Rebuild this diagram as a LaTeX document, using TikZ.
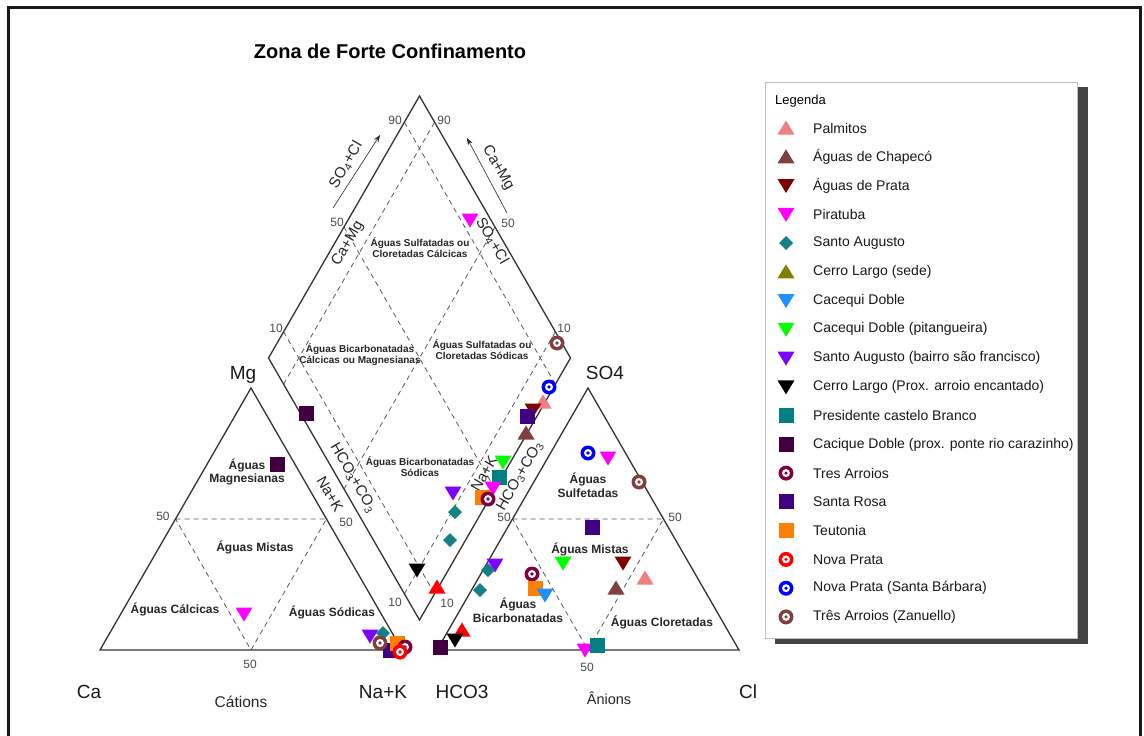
\documentclass[tikz,border=0pt]{standalone}
\usepackage{fontspec}
\setmainfont{Liberation Sans}
\usetikzlibrary{calc,arrows.meta}
\definecolor{cPalm}{RGB}{240,128,128}
\definecolor{cChap}{RGB}{128,64,64}
\definecolor{cPrata}{RGB}{128,0,0}
\definecolor{cPira}{RGB}{255,0,255}
\definecolor{cSAug}{RGB}{20,130,130}
\definecolor{cCerro}{RGB}{128,128,0}
\definecolor{cCaceq}{RGB}{30,144,255}
\definecolor{cPitang}{RGB}{0,255,0}
\definecolor{cBairro}{RGB}{128,0,255}
\definecolor{cPres}{RGB}{0,128,128}
\definecolor{cCaciq}{RGB}{64,0,64}
\definecolor{cTres}{RGB}{128,0,64}
\definecolor{cRosa}{RGB}{64,0,128}
\definecolor{cTeut}{RGB}{255,128,0}
\definecolor{cNova}{RGB}{255,0,0}
\definecolor{cNovaSB}{RGB}{0,0,255}
\definecolor{cZan}{RGB}{128,64,64}
\definecolor{shadowgray}{RGB}{68,68,68}
\tikzset{
  edge/.style={draw=black!80, line width=1.3pt},
  grid/.style={draw=black!65, line width=0.8pt, dash pattern=on 5pt off 4pt},
  reg/.style={font=\bfseries\fontsize{10}{11}\selectfont, text=black!85, align=center, inner sep=0pt},
  regb/.style={font=\bfseries\fontsize{12}{13.5}\selectfont, text=black!85, align=center, inner sep=0pt},
  num/.style={font=\fontsize{12}{13}\selectfont, text=black!70, inner sep=0pt},
  axl/.style={font=\fontsize{15}{16}\selectfont, text=black!85, inner sep=0pt},
  corner/.style={font=\fontsize{19}{21}\selectfont, text=black!90, inner sep=0pt},
  legtxt/.style={font=\fontsize{14}{16}\selectfont, text=black!90, anchor=west, inner sep=0pt},
  axarrow/.style={draw=black!85, line width=0.6pt, -{Stealth[length=7pt,width=5pt]}},
  pics/tup/.style={code={\fill[#1] (-8.5,6.5) -- (8.5,6.5) -- (0,-7.5) -- cycle;}},
  pics/tdn/.style={code={\fill[#1] (-8.5,-6.5) -- (8.5,-6.5) -- (0,7.5) -- cycle;}},
  pics/sq/.style={code={\fill[#1] (-7.5,-7.5) rectangle (7.5,7.5);}},
  pics/dia/.style={code={\fill[#1] (-7,0) -- (0,-7) -- (7,0) -- (0,7) -- cycle;}},
  pics/bull/.style={code={\fill[#1] (0,0) circle (7.5pt); \fill[white] (0,0) circle (4pt); \fill[#1] (0,0) circle (1.8pt);}},
}
\begin{document}
\begin{tikzpicture}[x=1pt,y=-1pt]
\useasboundingbox (0,0) rectangle (1144,736);
\fill[white] (0,0) rectangle (1144,736);
% frame
\draw[black!90, line width=3pt] (8.5,736) -- (8.5,7.5) -- (1140.5,7.5) -- (1140.5,736);

% title
\node[font=\bfseries\fontsize{20}{22}\selectfont, inner sep=0pt] (title) at (390,51) {Zona de Forte Confinamento};

% key points
\coordinate (Ca) at (100,650);
\coordinate (NaK) at (402,650);
\coordinate (Mg) at (251,388);
\coordinate (HC) at (437,650);
\coordinate (Cl) at (739,650);
\coordinate (SO) at (588,388);
\coordinate (Bt) at (419.5,620);
\coordinate (Lf) at (268.5,358);
\coordinate (Rt) at (570.5,358);
\coordinate (Tp) at (419.5,96);

% dashed grid
\draw[grid] ($(Ca)!0.5!(Mg)$) -- ($(Mg)!0.5!(NaK)$) -- ($(Ca)!0.5!(NaK)$) -- cycle;
\draw[grid] ($(HC)!0.5!(SO)$) -- ($(SO)!0.5!(Cl)$) -- ($(HC)!0.5!(Cl)$) -- cycle;
\foreach \t in {0.1,0.5,0.9}{
  \draw[grid] ($(Lf)!\t!(Tp)$) -- ($(Bt)!\t!(Rt)$);
  \draw[grid] ($(Lf)!\t!(Bt)$) -- ($(Tp)!\t!(Rt)$);
}

% solid outlines
\draw[edge] (Ca) -- (Mg) -- (NaK) -- cycle;
\draw[edge] (HC) -- (SO) -- (Cl) -- cycle;
\draw[edge] (Bt) -- (Lf) -- (Tp) -- (Rt) -- cycle;

% numbers
\node[num] (n90a) at (395,120) {90};
\node[num] (n90b) at (444,120) {90};
\node[num] (n50a) at (337,222) {50};
\node[num] (n50b) at (508,223) {50};
\node[num] (n10a) at (276,328) {10};
\node[num] (n10b) at (564,328) {10};
\node[num] (n10c) at (395,602) {10};
\node[num] (n10d) at (447,603) {10};
\node[num] (n50c) at (163,516) {50};
\node[num] (n50d) at (346,522) {50};
\node[num] (n50e) at (250,664) {50};
\node[num] (n50f) at (504,517) {50};
\node[num] (n50g) at (675,517) {50};
\node[num] (n50h) at (587,667) {50};

% axis labels of diamond
\coordinate (a1s) at (333,208); \coordinate (a1e) at (380,135);
\coordinate (a2s) at (507,213); \coordinate (a2e) at (467,138);
\draw[axarrow] (a1s) -- (a1e);
\draw[axarrow] (a2s) -- (a2e);
\node[axl, rotate=60] (lso1) at (346,165) {SO\textsubscript{4}+Cl};
\node[axl, rotate=-60] (lcm1) at (498,168) {Ca+Mg};
\node[axl, rotate=60] (lcm2) at (348,244) {Ca+Mg};
\node[axl, rotate=-60] (lso2) at (492,241) {SO\textsubscript{4}+Cl};
\node[axl, rotate=-60] (lhc1) at (353,478) {HCO\textsubscript{3}+CO\textsubscript{3}};
\node[axl, rotate=-60] (lnk1) at (330,494) {Na+K};
\node[axl, rotate=60] (lnk2) at (484,474) {Na+K};
\node[axl, rotate=60] (lhc2) at (520,476) {HCO\textsubscript{3}+CO\textsubscript{3}};

% region labels
\node[reg] (r1) at (420,248) {Águas Sulfatadas ou\\Cloretadas Cálcicas};
\node[reg] (r2) at (360,355) {Águas Bicarbonatadas\\Cálcicas ou Magnesianas};
\node[reg] (r3) at (482,350) {Águas Sulfatadas ou\\Cloretadas Sódicas};
\node[reg] (r4) at (420,467) {Águas Bicarbonatadas\\Sódicas};
\node[regb] (r5) at (247,472) {Águas\\Magnesianas};
\node[regb] (r6) at (255,547) {Águas Mistas};
\node[regb] (r7) at (175,609) {Águas Cálcicas};
\node[regb] (r8) at (332,612) {Águas Sódicas};
\node[regb] (r9) at (588,485) {Águas\\Sulfetadas};
\node[regb] (r10) at (590,549) {Águas Mistas};
\node[regb] (r11) at (518,610) {Águas\\Bicarbonatadas};
\node[regb] (r12) at (662,622) {Águas Cloretadas};

% corner labels
\node[corner] (lMg) at (243,375) {Mg};
\node[corner] (lSO) at (605,373) {SO4};
\node[corner] (lCa) at (89,692) {Ca};
\node[corner] (lNaK) at (383,692) {Na+K};
\node[corner] (lHC) at (462,692) {HCO3};
\node[corner] (lCl) at (748,692) {Cl};
\node[font=\fontsize{15.5}{17}\selectfont, text=black!85, inner sep=0pt] (lcat) at (241,702) {Cátions};
\node[font=\fontsize{14.5}{16}\selectfont, text=black!85, inner sep=0pt] (lani) at (609,698) {Ânions};

% data: left triangle
\pic at (277,464) {sq=cCaciq};
\pic at (244,614) {tdn=cPira};
\pic at (370,636) {tdn=cBairro};
\pic at (383,633) {dia=cSAug};
\pic at (390,650) {sq=cRosa};
\pic at (380,643) {bull=cZan};
\pic at (397,643) {sq=cTeut};
\pic at (405,647) {bull=cTres};
\pic at (400,652) {bull=cNova};

% data: diamond
\pic at (470,220) {tdn=cPira};
\pic at (557,343) {bull=cZan};
\pic at (306,413) {sq=cCaciq};
\pic at (549,387) {bull=cNovaSB};
\pic at (543,402) {tup=cPalm};
\pic at (533,410) {tdn=cPrata};
\pic at (527,416) {sq=cRosa};
\pic at (526,433) {tup=cChap};
\pic at (503,462) {tdn=cPitang};
\pic at (499,477) {sq=cPres};
\pic at (493,488) {tdn=cPira};
\pic at (482,497) {sq=cTeut};
\pic at (488,499) {bull=cTres};
\pic at (453,493) {tdn=cBairro};
\pic at (455,512) {dia=cSAug};
\pic at (450,540) {dia=cSAug};
\pic at (417,570) {tdn=black};
\pic at (437,587) {tup=cNova};

% data: right triangle
\pic at (588,453) {bull=cNovaSB};
\pic at (608,458) {tdn=cPira};
\pic at (639,482) {bull=cZan};
\pic at (592,527) {sq=cRosa};
\pic at (563,563) {tdn=cPitang};
\pic at (623,563) {tdn=cPrata};
\pic at (645,578) {tup=cPalm};
\pic at (616,588) {tup=cChap};
\pic at (532,574) {bull=cTres};
\pic at (535,588) {sq=cTeut};
\pic at (545,595) {tdn=cCaceq};
\pic at (495,565) {tdn=cBairro};
\pic at (488,570) {dia=cSAug};
\pic at (480,590) {dia=cSAug};
\pic at (462,630) {tup=cNova};
\pic at (455,640) {tdn=black};
\pic at (440,647) {sq=cCaciq};
\pic at (585,650) {tdn=cPira};
\pic at (597,645) {sq=cPres};

% legend
\fill[shadowgray] (775,87) rectangle (1088,644);
\draw[fill=white, draw=black!25, line width=0.8pt] (765,82) rectangle (1077,638);
\node[font=\fontsize{13}{15}\selectfont, anchor=west, inner sep=0pt] (leg) at (775,101) {Legenda};
\pic at (786,128) {tup=cPalm};
\pic at (786,156.8) {tup=cChap};
\pic at (786,185.5) {tdn=cPrata};
\pic at (786,214.3) {tdn=cPira};
\pic at (786,243) {dia=cSAug};
\pic at (786,271.8) {tup=cCerro};
\pic at (786,300.6) {tdn=cCaceq};
\pic at (786,329.3) {tdn=cPitang};
\pic at (786,358.1) {tdn=cBairro};
\pic at (786,386.8) {tdn=black};
\pic at (786,415.6) {sq=cPres};
\pic at (786,444.4) {sq=cCaciq};
\pic at (786,473.1) {bull=cTres};
\pic at (786,501.9) {sq=cRosa};
\pic at (786,530.6) {sq=cTeut};
\pic at (786,559.4) {bull=cNova};
\pic at (786,588.2) {bull=cNovaSB};
\pic at (786,616.9) {bull=cZan};
\foreach \yy/\txt [count=\i] in {128/Palmitos, 156.8/Águas de Chapecó, 185.5/Águas de Prata, 214.3/Piratuba, 243/Santo Augusto, 271.8/Cerro Largo (sede), 300.6/Cacequi Doble, 329.3/Cacequi Doble (pitangueira), 358.1/Santo Augusto (bairro são francisco), 386.8/Cerro Largo (Prox. arroio encantado), 415.6/Presidente castelo Branco, 444.4/Cacique Doble (prox. ponte rio carazinho), 473.1/Tres Arroios, 501.9/Santa Rosa, 530.6/Teutonia, 559.4/Nova Prata, 588.2/Nova Prata (Santa Bárbara), 616.9/Três Arroios (Zanuello)}{
  \node[legtxt] (leg\i) at (813,\yy) {\txt};
}
\end{tikzpicture}
\end{document}
